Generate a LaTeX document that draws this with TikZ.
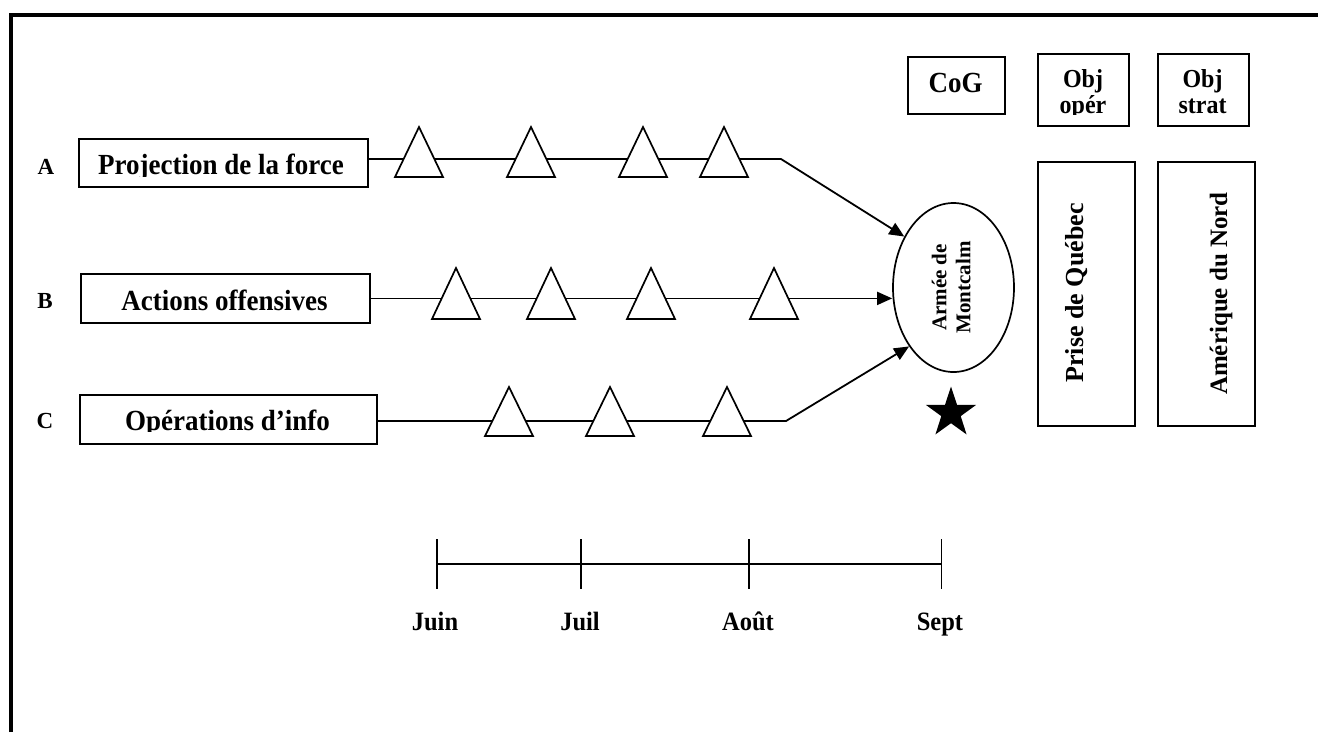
\documentclass[tikz,border=0pt]{standalone}
\usepackage{fontspec}
\setmainfont{Liberation Serif}
\usetikzlibrary{shapes.geometric,arrows.meta}
\newcommand\trimark[3]{\draw[tristyle] (#1,#2) -- (#1+24,#3) -- (#1-24,#3) -- cycle;}
\newcommand\vstretch[1]{\scalebox{1}[1.08]{#1}}
\begin{document}
\begin{tikzpicture}[x=1pt,y=-1pt,line join=miter,
  box/.style={draw,line width=1.8pt,rectangle,inner sep=0pt,anchor=north west},
  lbl/.style={font=\bfseries\fontsize{27}{30}\selectfont,anchor=base,inner sep=0pt},
  lbltwo/.style={font=\bfseries\fontsize{24}{26}\selectfont,anchor=base,inner sep=0pt},
  letter/.style={font=\bfseries\fontsize{23}{26}\selectfont,anchor=base,inner sep=0pt},
  tlab/.style={font=\bfseries\fontsize{24.5}{27}\selectfont,anchor=base,inner sep=0pt},
  rot/.style={anchor=base,rotate=90,inner sep=0pt},
  arr/.style={line width=1.8pt,-{Triangle[length=15pt,width=13pt]}},
  tristyle/.style={draw,fill=white,line width=1.7pt},
  tl/.style={line width=1.9pt}]
\useasboundingbox (0,0) rectangle (1318,732);
% frame
\draw[line width=4pt] (10.5,732) -- (10.5,14.7) -- (1318,14.7);

% left boxes
\node[box,minimum width=289pt,minimum height=48pt] (projA) at (78,138) {};
\node[box,minimum width=289pt,minimum height=49pt] (actB) at (80,273) {};
\node[box,minimum width=297pt,minimum height=49pt] (opC) at (79,394) {};
\begin{scope}
  \clip (78,138) rectangle (367,176);
  \node[lbl] (tA) at (221,174) {\vstretch{Projection de la force}};
\end{scope}
\node[lbl] (tB) at (224.5,310) {\vstretch{Actions offensives}};
\begin{scope}
  \clip (79,394) rectangle (376,431.5);
  \node[lbl] (tC) at (227.5,430) {\vstretch{Opérations d’info}};
\end{scope}
\node[letter] (lA) at (46,174) {A};
\node[letter] (lB) at (45,308) {B};
\node[letter] (lC) at (45,428) {C};

% centre of gravity
\node[draw,ellipse,line width=1.7pt,minimum width=121pt,minimum height=169pt,inner sep=0pt,
      font=\bfseries\fontsize{21}{24}\selectfont] (ell) at (953.5,287.5)
      {\rotatebox{90}{\begin{tabular}{@{}c@{}}Armée de\\Montcalm\end{tabular}}};
\node[star,star points=5,star point ratio=2.6,fill=black,minimum size=53pt,inner sep=0pt] (star) at (951,413) {};

% lines of operation
\coordinate (kA) at (781,159);
\coordinate (kC) at (786,421);
\draw[arr] (projA.east |- kA) -- (kA) -- (ell.134);
\draw[arr] (actB.east) -- (actB.east -| ell.west);
\draw[arr] (opC.east |- kC) -- (kC) -- (ell.233);

% decisive points
\trimark{419}{127}{177}
\trimark{531}{127}{177}
\trimark{643}{127}{177}
\trimark{724}{127}{177}
\trimark{456}{268}{319}
\trimark{551}{268}{319}
\trimark{651}{268}{319}
\trimark{774}{268}{319}
\trimark{509}{387}{436}
\trimark{610}{387}{436}
\trimark{727}{387}{436}

% right boxes
\node[box,minimum width=97pt,minimum height=57pt] (cog) at (907,56) {};
\node[lbl] (tcog) at (955.5,92) {\vstretch{CoG}};
\node[box,minimum width=91pt,minimum height=72pt] (objop) at (1037,53) {};
\begin{scope}
  \clip (1037,53) rectangle (1128,114.5);
  \node[lbltwo] (tobjop) at (1083,87) {\begin{tabular}[t]{@{}c@{}}\vstretch{Obj}\\\vstretch{opér}\end{tabular}};
\end{scope}
\node[box,minimum width=91pt,minimum height=72pt] (objst) at (1157,53) {};
\node[lbltwo] (tobjst) at (1202.5,87) {\begin{tabular}[t]{@{}c@{}}\vstretch{Obj}\\\vstretch{strat}\end{tabular}};
\node[box,minimum width=97pt,minimum height=264pt] (prise) at (1037,161) {};
\node[rot,font=\bfseries\fontsize{26}{29}\selectfont] (tprise) at (1083,293) {Prise de Québec};
\node[box,minimum width=97pt,minimum height=264pt] (amer) at (1157,161) {};
\node[rot,font=\bfseries\fontsize{25}{28}\selectfont] (tamer) at (1227,293.5) {Amérique du Nord};

% timeline
\coordinate (m1) at (437,564);
\coordinate (m2) at (581,564);
\coordinate (m3) at (749,564);
\coordinate (m4) at (941.5,564);
\draw[tl] (m1) -- (m4);
\foreach \m in {m1,m2,m3,m4} \draw[tl] (\m) ++(0,-25) -- ++(0,50);
\node[tlab] (lJuin) at (435,630) {\vstretch{Juin}};
\node[tlab] (lJuil) at (580,630) {\vstretch{Juil}};
\node[tlab] (lAout) at (748,630) {\vstretch{Août}};
\node[tlab] (lSept) at (940,630) {\vstretch{Sept}};
\end{tikzpicture}
\end{document}
